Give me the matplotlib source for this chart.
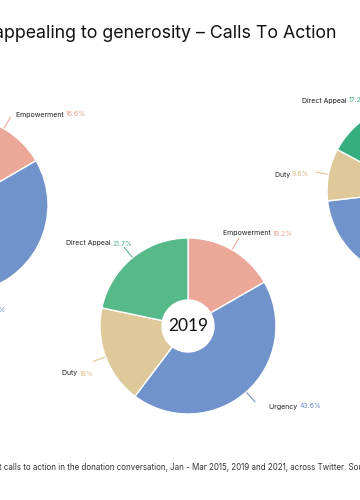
import matplotlib.pyplot as plt
import numpy as np

plt.rcParams['font.family'] = ['Inter', 'DejaVu Sans']

# 数据
title = 'appealing to generosity – Calls To Action'
footnote = ('t calls to action in the donation conversation, Jan - Mar 2015, '
            '2019 and 2021, across Twitter. Source: Pulsar')

categories = ['Empowerment', 'Urgency', 'Duty', 'Direct Appeal']
years = ['2015', '2019', '2021']

# wedge sizes as drawn (%)
share_2015 = [16.6, 63.0, 8.4, 12.0]
share_2019 = [16.7, 43.6, 18.0, 21.7]
share_2021 = [20.4, 52.8, 9.6, 17.2]

# percentages printed next to the labels
label_2015 = ['16.6%', '63%', '8.4%', '12%']
label_2019 = ['19.2%', '43.6%', '18%', '21.7%']
label_2021 = ['20.4%', '52.8%', '9.6%', '17.2%']

shares = [share_2015, share_2019, share_2021]
pct_labels = [label_2015, label_2019, label_2021]

# 样式
slice_colors = ['#EBA898', '#7093CB', '#DFC899', '#55B98A']
pct_colors = ['#E89F8D', '#6A8DCA', '#D9BE86', '#4BB27F']
green_2021 = '#35AF80'

# pie centres in pixel coords (y downwards), radius, hole radius
centers = [(-40, 205), (188, 326), (415, 191)]
radius = 88
hole = 26
lab_fs = 5.0

# label anchor (x, baseline y, side): 'left' = text starts at x, 'right' = text ends at x
label_pos = [
    [(16, 116.5, 'left'), (6, 311.5, 'right'), (-150, 330, 'right'), (-150, 110, 'right')],
    [(223, 235.5, 'left'), (269, 408.5, 'left'), (93, 375.5, 'right'), (132, 245.5, 'right')],
    [(470, 100, 'left'), (480, 330, 'left'), (309, 176.5, 'right'), (302, 102.5, 'left')],
]

fig = plt.figure(figsize=(3.6, 5), dpi=100)
ax = fig.add_axes([0, 0, 1, 1])

for i, year in enumerate(years):
    cx, cy = centers[i]
    cols = list(slice_colors)
    if year == '2021':
        cols[3] = green_2021
    # y axis is inverted later, so startangle=-90 + counterclock gives "clockwise from top"
    ax.pie(shares[i], colors=cols, startangle=-90, counterclock=True,
           center=(cx, cy), radius=radius, frame=True,
           wedgeprops=dict(width=radius - hole, edgecolor='white', linewidth=1))
    ax.text(cx, cy, year, ha='center', va='center', fontsize=12.5,
            color='#111111', family=['Lato', 'DejaVu Sans'])

    # leader lines + labels
    frac = np.array(shares[i]) / np.sum(shares[i])
    mids = (np.cumsum(frac) - frac / 2) * 2 * np.pi
    for j, cat in enumerate(categories):
        a = mids[j]
        r0, r1 = radius + 1, radius + 13
        ax.plot([cx + r0 * np.sin(a), cx + r1 * np.sin(a)],
                [cy - r0 * np.cos(a), cy - r1 * np.cos(a)],
                color=slice_colors[j], lw=0.8)
        x, y, side = label_pos[i][j]
        if side == 'left':
            t = ax.text(x, y, cat + ' ', ha='left', va='baseline',
                        fontsize=lab_fs, color='#222222')
            ax.annotate(pct_labels[i][j], xy=(1, 0), xycoords=t, ha='left',
                        va='bottom', fontsize=lab_fs, color=pct_colors[j])
        else:
            t = ax.text(x, y, pct_labels[i][j], ha='right', va='baseline',
                        fontsize=lab_fs, color=pct_colors[j])
            ax.annotate(cat + ' ', xy=(0, 0), xycoords=t, ha='right',
                        va='bottom', fontsize=lab_fs, color='#222222')

ax.set_xlim(0, 360)
ax.set_ylim(500, 0)
ax.axis('off')

ax.text(337, 33, title, ha='right', va='center', fontsize=12.8,
        color='#111111')
ax.text(-1, 468, footnote, ha='left', va='center', fontsize=5.75, color='#333333')

fig.savefig('out.png', dpi=100)
